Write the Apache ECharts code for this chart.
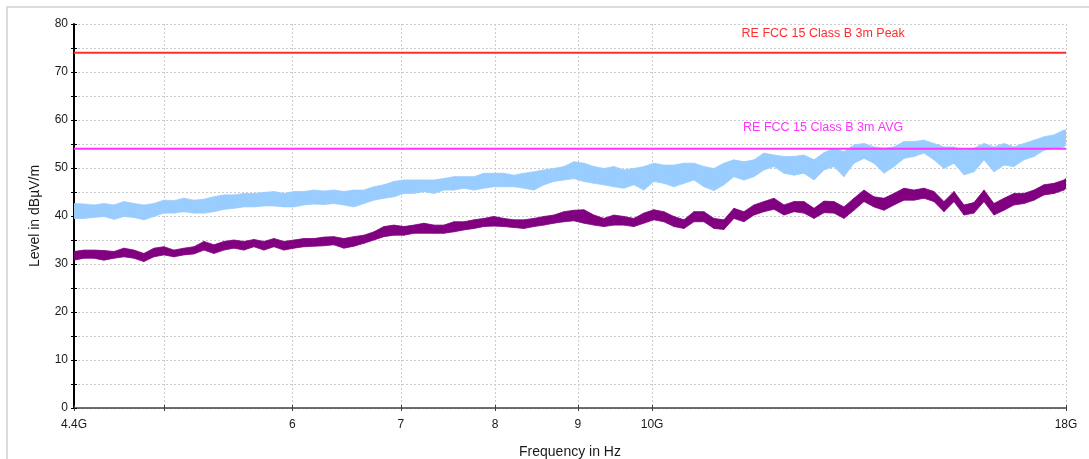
<!DOCTYPE html>
<html>
<head>
<meta charset="utf-8">
<script src="https://cdn.jsdelivr.net/npm/echarts@6/dist/echarts.min.js"></script>
<style>
  html, body { margin: 0; padding: 0; background: #ffffff; }
  #chart { width: 1089px; height: 459px; }
</style>
</head>
<body>
<div id="chart"></div>
<script>
// Sweep frequencies in GHz (log-spaced scan points)
const freqGHz = [
  4.400, 4.463, 4.527, 4.591, 4.657, 4.723, 4.791, 4.859, 4.929, 4.999,
  5.071, 5.143, 5.217, 5.292, 5.367, 5.444, 5.522, 5.601, 5.681, 5.762,
  5.845, 5.928, 6.013, 6.099, 6.186, 6.274, 6.364, 6.455, 6.547, 6.641,
  6.736, 6.833, 6.930, 7.030, 7.130, 7.232, 7.336, 7.440, 7.547, 7.655,
  7.764, 7.875, 7.988, 8.102, 8.218, 8.335, 8.455, 8.576, 8.698, 8.823,
  8.949, 9.077, 9.207, 9.338, 9.472, 9.607, 9.745, 9.884, 10.025, 10.169,
  10.315, 10.463, 10.612, 10.764, 10.918, 11.074, 11.232, 11.393, 11.556, 11.721,
  11.890, 12.060, 12.232, 12.407, 12.585, 12.765, 12.947, 13.132, 13.320, 13.511,
  13.704, 13.900, 14.099, 14.300, 14.505, 14.712, 14.923, 15.136, 15.353, 15.572,
  15.795, 16.021, 16.250, 16.482, 16.718, 16.957, 17.200, 17.446, 17.695, 17.948,
  18.000
];

// Peak detector trace: lower and upper edge of the noise band (dBµV/m)
const peakLow = [
  39.5, 39.5, 39.7, 39.9, 39.3, 39.9, 39.7, 39.2, 39.9, 40.6,
  40.6, 40.9, 40.6, 40.6, 40.9, 41.4, 41.6, 41.9, 41.9, 42.1,
  42.1, 41.9, 41.9, 42.3, 42.5, 42.4, 42.6, 42.3, 41.9, 42.6,
  43.3, 43.7, 44.0, 44.7, 44.7, 45.1, 44.7, 45.4, 45.4, 45.8,
  45.4, 45.8, 46.1, 46.1, 46.1, 45.8, 45.4, 46.5, 47.2, 47.5,
  47.8, 47.2, 46.8, 46.5, 46.1, 45.8, 46.5, 45.4, 47.2, 46.8,
  46.1, 46.8, 47.5, 46.1, 45.3, 46.5, 48.2, 47.5, 48.2, 49.6,
  50.3, 48.9, 48.5, 48.9, 47.5, 49.6, 50.3, 48.2, 51.0, 52.0,
  51.0, 48.9, 50.3, 52.0, 52.4, 53.1, 51.7, 49.9, 51.0, 48.6,
  49.2, 51.7, 49.2, 50.6, 50.3, 51.7, 52.4, 53.7, 54.1, 54.4,
  55.1
];
const peakHigh = [
  42.6, 42.5, 42.3, 42.6, 42.3, 43.0, 42.6, 42.3, 42.6, 43.3,
  43.2, 43.7, 43.3, 43.5, 44.0, 44.4, 44.4, 44.7, 44.7, 44.9,
  45.1, 44.7, 45.1, 45.1, 45.4, 45.2, 45.4, 45.1, 45.4, 45.4,
  46.1, 46.5, 47.2, 47.5, 47.5, 47.5, 47.5, 47.8, 48.2, 48.2,
  48.2, 48.9, 48.9, 48.9, 48.5, 48.9, 49.2, 49.6, 49.9, 50.3,
  51.3, 51.0, 50.3, 49.9, 50.3, 49.6, 49.9, 50.3, 51.0, 50.6,
  50.6, 51.0, 51.0, 50.3, 49.9, 51.0, 51.7, 51.3, 51.7, 53.1,
  52.7, 52.4, 52.4, 52.7, 51.7, 53.2, 54.1, 53.4, 54.8, 55.1,
  54.4, 54.1, 54.4, 55.5, 55.5, 55.8, 55.1, 54.4, 54.4, 53.7,
  54.1, 55.1, 54.4, 55.1, 54.4, 55.1, 55.8, 56.5, 56.9, 57.9,
  57.9
];

// Average detector trace: lower and upper edge of the band (dBµV/m)
const avgLow = [
  30.8, 31.2, 31.2, 30.8, 31.2, 31.5, 31.2, 30.5, 31.5, 31.9,
  31.5, 31.9, 32.1, 32.9, 32.2, 32.9, 33.3, 32.9, 33.6, 32.9,
  33.6, 32.9, 33.3, 33.6, 33.7, 33.8, 34.0, 33.3, 33.7, 34.3,
  35.0, 35.7, 36.0, 36.0, 36.4, 36.4, 36.4, 36.4, 36.7, 37.1,
  37.4, 37.8, 37.9, 37.8, 37.6, 37.4, 37.8, 38.1, 38.5, 38.8,
  39.0, 38.5, 38.1, 37.8, 38.1, 38.1, 37.8, 38.5, 39.2, 38.8,
  37.8, 37.4, 38.8, 38.8, 37.4, 37.2, 39.5, 38.8, 40.2, 40.9,
  41.4, 40.2, 40.9, 40.6, 39.5, 40.7, 40.6, 39.5, 41.2, 43.0,
  41.9, 41.2, 42.3, 43.3, 43.3, 43.7, 43.0, 40.9, 43.0, 40.2,
  40.6, 43.0, 40.2, 41.2, 42.3, 42.6, 43.3, 44.4, 44.7, 45.4,
  45.8
];
const avgHigh = [
  32.6, 32.9, 32.9, 32.8, 32.6, 33.3, 32.9, 32.2, 33.3, 33.6,
  32.9, 33.3, 33.6, 34.7, 34.0, 34.7, 35.0, 34.7, 35.1, 34.7,
  35.3, 34.7, 35.0, 35.3, 35.3, 35.6, 35.7, 35.3, 35.7, 36.0,
  36.7, 37.8, 38.1, 37.8, 38.1, 38.5, 38.1, 38.1, 38.8, 38.8,
  39.2, 39.5, 39.9, 39.5, 39.2, 39.2, 39.5, 39.9, 40.2, 40.9,
  41.2, 41.3, 40.2, 39.5, 40.2, 39.9, 39.5, 40.6, 41.3, 40.9,
  39.9, 39.2, 40.9, 40.9, 39.5, 39.2, 41.6, 40.9, 42.3, 43.0,
  43.7, 42.3, 43.0, 43.0, 41.6, 43.1, 43.0, 41.9, 43.7, 45.4,
  44.0, 43.7, 44.7, 45.8, 45.4, 45.8, 45.1, 43.0, 45.1, 42.3,
  42.8, 45.4, 42.6, 43.7, 44.7, 44.7, 45.4, 46.5, 46.8, 47.5,
  47.8
];

// FCC Part 15 Class B limits at 3 m
const limitFreqGHz = [4.4, 18];
const peakLimitLevel = [74, 74];
const avgLimitLevel = [54, 54];
const peakLimitName = 'RE FCC 15 Class B 3m Peak';
const avgLimitName = 'RE FCC 15 Class B 3m AVG';
const limitLabelFreqGHz = 12.75;

// Axis ticks
const xTickValues = [4.4, 5, 6, 7, 8, 9, 10, 18];
const xLabelValues = [4.4, 6, 7, 8, 9, 10, 18];
const xLabelText = { '4.4': '4.4G', '6': '6', '7': '7', '8': '8', '9': '9', '10': '10G', '18': '18G' };

const FONT = '"Liberation Sans", Arial, sans-serif';
const PEAK_COLOR = '#99ccff';
const AVG_COLOR = '#800080';
const PEAK_LIMIT_COLOR = '#ff2e2e';
const AVG_LIMIT_COLOR = '#ff33ff';

const pairs = (xs, ys) => xs.map((x, i) => [x, ys[i]]);
const bandRows = (xs, lo, hi) => xs.map((x, i) => [x, lo[i], hi[i]]);

// Draws one segment of a trace band: quad between scan point i and i+1,
// spanning the lower and upper edge of the band.
function bandSegment(color) {
  return function (params, api) {
    const i = params.dataIndexInside;
    if (i >= params.dataInsideLength - 1) return null;
    const f0 = api.value(0, i), lo0 = api.value(1, i), hi0 = api.value(2, i);
    const f1 = api.value(0, i + 1), lo1 = api.value(1, i + 1), hi1 = api.value(2, i + 1);
    const points = [
      api.coord([f0, lo0]),
      api.coord([f0, hi0]),
      api.coord([f1, hi1]),
      api.coord([f1, lo1])
    ];
    return {
      type: 'polygon',
      shape: { points },
      style: { fill: color, stroke: color, lineWidth: 0.8 },
      silent: true
    };
  };
}

const chart = echarts.init(document.getElementById('chart'), null, { renderer: 'canvas' });

const xAxisBase = {
  type: 'log',
  logBase: 10,
  min: 4.4,
  max: 18,
  gridIndex: 0
};

const option = {
  animation: false,
  backgroundColor: '#ffffff',
  textStyle: { fontFamily: FONT },
  graphic: [{
    type: 'rect',
    shape: { x: 7, y: 7, width: 1200, height: 600 },
    style: { fill: 'none', stroke: '#cfcfcf', lineWidth: 1.5 },
    silent: true,
    z: -10
  }],
  grid: { left: 74, right: 23, top: 24, bottom: 51, containLabel: false, outerBoundsMode: 'none' },
  xAxis: [
    Object.assign({}, xAxisBase, {
      position: 'bottom',
      name: 'Frequency in Hz',
      nameLocation: 'middle',
      nameGap: 37,
      nameTextStyle: { fontSize: 14, color: '#1a1a1a', fontFamily: FONT },
      axisLine: { show: true, lineStyle: { color: '#404040', width: 1.5 } },
      axisTick: { show: true, length: 3, customValues: xTickValues, lineStyle: { color: '#404040', width: 1 } },
      axisLabel: {
        show: true,
        customValues: xLabelValues,
        margin: 11,
        fontSize: 12,
        color: '#1a1a1a',
        fontFamily: FONT,
        formatter: v => xLabelText[String(+(+v).toFixed(2))] || ''
      },
      splitLine: { show: true, lineStyle: { color: '#cccccc', type: [2, 2], width: 1 } },
      minorTick: { show: false },
      minorSplitLine: { show: false }
    }),
    Object.assign({}, xAxisBase, {
      position: 'bottom',
      axisLine: { show: false },
      axisTick: { show: true, inside: true, length: 3, customValues: xTickValues, lineStyle: { color: '#404040', width: 1 } },
      axisLabel: { show: false },
      splitLine: { show: false }
    })
  ],
  yAxis: [
    {
      type: 'value',
      min: 0,
      max: 80,
      interval: 5,
      name: 'Level in dBµV/m',
      nameLocation: 'middle',
      nameGap: 32,
      nameRotate: 90,
      nameTextStyle: { fontSize: 14, color: '#1a1a1a', fontFamily: FONT },
      axisLine: { show: true, lineStyle: { color: '#000000', width: 2 } },
      axisTick: { show: true, length: 3, lineStyle: { color: '#000000', width: 1 } },
      axisLabel: {
        margin: 6,
        fontSize: 12,
        color: '#1a1a1a',
        fontFamily: FONT,
        formatter: v => (v % 10 === 0 ? String(v) : '')
      },
      splitLine: { show: true, lineStyle: { color: '#cccccc', type: [2, 2], width: 1 } }
    },
    {
      type: 'value',
      min: 0,
      max: 80,
      interval: 5,
      position: 'left',
      axisLine: { show: false },
      axisTick: { show: true, inside: true, length: 3, lineStyle: { color: '#000000', width: 1 } },
      axisLabel: { show: false },
      splitLine: { show: false }
    }
  ],
  series: [
    // Peak detector band
    {
      name: 'Peak',
      type: 'custom',
      data: bandRows(freqGHz, peakLow, peakHigh),
      encode: { x: 0, y: [1, 2] },
      renderItem: bandSegment(PEAK_COLOR),
      clip: true,
      z: 2,
      silent: true
    },
    // Average detector band
    {
      name: 'Average',
      type: 'custom',
      data: bandRows(freqGHz, avgLow, avgHigh),
      encode: { x: 0, y: [1, 2] },
      renderItem: bandSegment(AVG_COLOR),
      clip: true,
      z: 3,
      silent: true
    },
    // Limit lines
    {
      name: peakLimitName,
      type: 'line',
      data: pairs(limitFreqGHz, peakLimitLevel),
      showSymbol: false,
      symbol: 'none',
      lineStyle: { color: PEAK_LIMIT_COLOR, width: 2 },
      z: 5,
      silent: true,
      markPoint: {
        symbol: 'circle',
        symbolSize: 0,
        silent: true,
        data: [{ coord: [limitLabelFreqGHz, peakLimitLevel[0]] }],
        label: {
          show: true,
          position: 'inside',
          offset: [0, -19],
          formatter: peakLimitName,
          color: PEAK_LIMIT_COLOR,
          fontSize: 12.5,
          fontFamily: FONT
        }
      }
    },
    {
      name: avgLimitName,
      type: 'line',
      data: pairs(limitFreqGHz, avgLimitLevel),
      showSymbol: false,
      symbol: 'none',
      lineStyle: { color: AVG_LIMIT_COLOR, width: 2 },
      z: 5,
      silent: true,
      markPoint: {
        symbol: 'circle',
        symbolSize: 0,
        silent: true,
        data: [{ coord: [limitLabelFreqGHz, avgLimitLevel[0]] }],
        label: {
          show: true,
          position: 'inside',
          offset: [0, -21],
          formatter: avgLimitName,
          color: AVG_LIMIT_COLOR,
          fontSize: 12.5,
          fontFamily: FONT
        }
      }
    }
  ]
};

chart.setOption(option);
</script>
</body>
</html>
